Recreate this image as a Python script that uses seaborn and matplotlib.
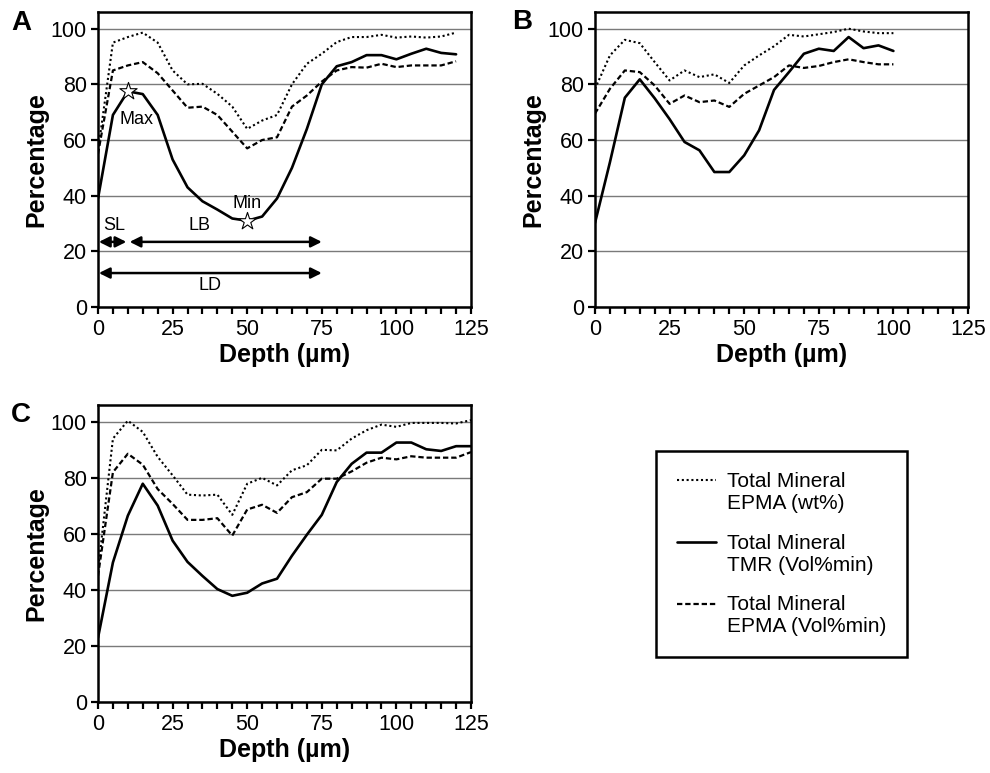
import numpy as np
import pandas as pd
import matplotlib.pyplot as plt
import seaborn as sns
from matplotlib.lines import Line2D
from matplotlib.ticker import MultipleLocator
from matplotlib.legend_handler import HandlerLine2D

# ---- data (depth in um, values in %) ----
DEPTH_A = [0, 5, 10, 15, 20, 25, 30, 35, 40, 45, 50, 55, 60, 65, 70, 75, 80, 85, 90, 95, 100, 105, 110, 115, 120]
A_EPMA_WT = [56, 95, 97, 98.6, 95, 85, 80, 80.2, 76.6, 72, 64, 67, 69, 80, 87.4, 91, 95.2, 97, 97, 97.8, 96.8, 97.2, 96.8, 97.2, 98.6]
A_TMR = [39, 69, 77.5, 76.5, 69, 53, 43, 38, 35, 31.8, 31, 32.5, 39, 50, 64, 80, 86.5, 88, 90.5, 90.5, 89, 91, 92.8, 91.3, 90.8]
A_EPMA_VOL = [55, 85, 86.8, 88, 84, 77.8, 71.6, 72, 69, 63, 57, 60, 61, 72, 76, 81, 85, 86.2, 86, 87.4, 86.2, 86.8, 86.8, 86.8, 88.3]

DEPTH_B = [0, 5, 10, 15, 20, 25, 30, 35, 40, 45, 50, 55, 60, 65, 70, 75, 80, 85, 90, 95, 100]
B_EPMA_WT = [78.4, 90.4, 96, 94.8, 88, 81.4, 85, 82.6, 83.6, 80.5, 86.8, 90.4, 93.7, 97.8, 97.2, 98, 98.8, 100, 99, 98.4, 98.4]
B_TMR = [30.2, 52, 75.2, 81.8, 75, 67.5, 59.3, 56.3, 48.5, 48.5, 54.5, 63.5, 78, 84.4, 91, 92.8, 92, 97, 93, 94, 92]
B_EPMA_VOL = [69.5, 78.4, 85, 84.4, 79.6, 73, 76, 73.6, 74.2, 71.9, 76.6, 79.6, 82.6, 86.8, 85.9, 86.6, 88, 89, 88, 87.2, 87.2]

DEPTH_C = [0, 5, 10, 15, 20, 25, 30, 35, 40, 45, 50, 55, 60, 65, 70, 75, 80, 85, 90, 95, 100, 105, 110, 115, 120, 125]
C_EPMA_WT = [46.8, 94, 100.4, 96.4, 87.5, 80.9, 74, 73.7, 74, 66.8, 77.9, 80, 77.3, 82.7, 84.5, 90, 89.8, 94, 97, 99, 98.2, 99.6, 99.6, 99.6, 99.4, 100.6]
C_TMR = [22.9, 49.8, 66.5, 77.9, 70.1, 57.6, 50, 45, 40.3, 37.9, 39, 42.3, 44, 52.2, 59.7, 66.8, 78.5, 85, 89, 89, 92.6, 92.6, 90.2, 89.6, 91.3, 91.3]
C_EPMA_VOL = [45, 82, 88.6, 84.7, 76, 70.7, 65, 65, 65.6, 59.4, 68.7, 70.4, 67.5, 73.1, 74.9, 79.7, 79.7, 82.3, 85.4, 87.2, 86.6, 87.7, 87.2, 87.2, 87.2, 89.2]

SERIES_LABELS = {
    "EPMA_WT": "Total Mineral\nEPMA (wt%)",
    "TMR": "Total Mineral\nTMR (Vol%min)",
    "EPMA_VOL": "Total Mineral\nEPMA (Vol%min)",
}
LEGEND_ORDER = ["EPMA_WT", "TMR", "EPMA_VOL"]
DASHES = {"EPMA_WT": (1, 1.3), "TMR": "", "EPMA_VOL": (2.4, 1.3)}
SIZES = {"EPMA_WT": 1.5, "TMR": 1.9, "EPMA_VOL": 1.6}

# panel A markers (max / min of TMR) and layer widths
STAR_DEPTH = [10, 50]
STAR_VALUE = [77.5, 31]
SL_END = 10
LD_END = 75


def long_df(depth, wt, tmr, vol):
    frames = []
    for key, vals in (("EPMA_WT", wt), ("EPMA_VOL", vol), ("TMR", tmr)):
        frames.append(pd.DataFrame({"depth": depth, "value": vals, "series": key}))
    return pd.concat(frames, ignore_index=True)


def style_axis(ax):
    ax.set_xlim(0, 125)
    ax.set_ylim(0, 106)
    ax.set_xticks([0, 25, 50, 75, 100, 125])
    ax.xaxis.set_minor_locator(MultipleLocator(5))
    ax.set_yticks([0, 20, 40, 60, 80, 100])
    ax.tick_params(which="both", direction="out", length=5, width=1.6,
                   labelsize=15.5, color="black", labelcolor="black")
    ax.tick_params(axis="x", pad=4)
    ax.tick_params(axis="y", pad=3)
    ax.yaxis.grid(True, color="#7a7a7a", lw=1.0)
    ax.xaxis.grid(False)
    ax.set_axisbelow(True)
    for s in ax.spines.values():
        s.set_visible(True)
        s.set_linewidth(1.8)
        s.set_color("black")
    ax.set_xlabel("Depth (µm)", fontsize=18, fontweight="bold", labelpad=2)
    ax.set_ylabel("Percentage", fontsize=18, fontweight="bold", labelpad=2)


def draw_panel(ax, df):
    sns.lineplot(data=df, x="depth", y="value", style="series", size="series",
                 dashes=DASHES, sizes=SIZES, color="black",
                 legend=False, ax=ax, estimator=None, sort=False)
    style_axis(ax)


class FirstLineHandler(HandlerLine2D):
    """Put the legend line next to the first line of a two-line label."""
    def create_artists(self, legend, orig_handle, xdescent, ydescent,
                       width, height, fontsize, trans):
        artists = super().create_artists(legend, orig_handle, xdescent, ydescent,
                                         width, height, fontsize, trans)
        for a in artists:
            a.set_ydata(np.asarray(a.get_ydata(), float) + 0.6 * fontsize)
        return artists


sns.set_style("ticks")
plt.rcParams["font.family"] = ["Liberation Sans", "DejaVu Sans"]
plt.rcParams["text.color"] = "black"
plt.rcParams["axes.labelcolor"] = "black"
plt.rcParams["xtick.color"] = "black"
plt.rcParams["ytick.color"] = "black"

W, H = 990, 773
fig = plt.figure(figsize=(W / 100, H / 100), dpi=100)

ax_a = fig.add_axes([98 / W, 1 - 307 / H, 373 / W, 295 / H])
ax_b = fig.add_axes([595 / W, 1 - 307 / H, 373 / W, 295 / H])
ax_c = fig.add_axes([98 / W, 1 - 702 / H, 373 / W, 297 / H])

draw_panel(ax_a, long_df(DEPTH_A, A_EPMA_WT, A_TMR, A_EPMA_VOL))
draw_panel(ax_b, long_df(DEPTH_B, B_EPMA_WT, B_TMR, B_EPMA_VOL))
draw_panel(ax_c, long_df(DEPTH_C, C_EPMA_WT, C_TMR, C_EPMA_VOL))

# panel A annotations
sns.scatterplot(x=STAR_DEPTH, y=STAR_VALUE, marker="*", s=170, color="white",
                edgecolor="black", linewidth=0.8, zorder=5, ax=ax_a, legend=False)
ax_a.text(STAR_DEPTH[0] + 3, 67.5, "Max", fontsize=13, ha="center", va="center")
ax_a.text(STAR_DEPTH[1], 37.2, "Min", fontsize=13, ha="center", va="center")

arrow = dict(arrowstyle="<|-|>", color="black", lw=1.8, mutation_scale=16,
             shrinkA=0, shrinkB=0)
ax_a.annotate("", xy=(0.3, 23.4), xytext=(SL_END - 0.5, 23.4), arrowprops=arrow)
ax_a.annotate("", xy=(SL_END + 0.6, 23.4), xytext=(LD_END, 23.4), arrowprops=arrow)
ax_a.annotate("", xy=(0.3, 12.2), xytext=(LD_END, 12.2), arrowprops=arrow)
ax_a.text(5.5, 29.2, "SL", fontsize=13, ha="center", va="center")
ax_a.text(34, 29.2, "LB", fontsize=13, ha="center", va="center")
ax_a.text(37.7, 7.8, "LD", fontsize=13, ha="center", va="center")

# panel letters
fig.text(11 / W, 1 - 10 / H, "A", fontsize=20, fontweight="bold", va="top")
fig.text(512 / W, 1 - 9 / H, "B", fontsize=20, fontweight="bold", va="top")
fig.text(11 / W, 1 - 402 / H, "C", fontsize=20, fontweight="bold", va="top")

# legend
handles = []
for k in LEGEND_ORDER:
    h = Line2D([], [], color="black", lw=SIZES[k], linestyle="-")
    if DASHES[k]:
        h.set_dashes(DASHES[k])
    handles.append(h)
labels = [SERIES_LABELS[k] for k in LEGEND_ORDER]
leg = fig.legend(handles, labels, loc="upper left",
                 bbox_to_anchor=(656 / W, 1 - 451 / H), bbox_transform=fig.transFigure,
                 frameon=True, fancybox=False, edgecolor="black", fontsize=15,
                 borderpad=1.0, borderaxespad=0, handlelength=1.9, handletextpad=0.5,
                 labelspacing=1.0, handler_map={Line2D: FirstLineHandler()})
leg.get_frame().set_linewidth(1.8)
leg.get_frame().set_edgecolor("black")
leg.get_frame().set_alpha(1)
for t in leg.get_texts():
    t.set_color("black")

fig.savefig("out.png", dpi=100)
